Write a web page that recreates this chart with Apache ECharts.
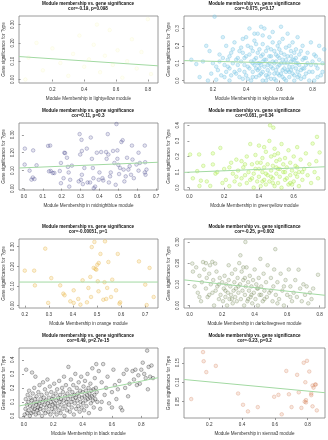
<!DOCTYPE html>
<html><head><meta charset="utf-8">
<script src="https://cdn.jsdelivr.net/npm/echarts@6/dist/echarts.min.js"></script>
<style>html,body{margin:0;padding:0;background:#fff}#c{width:328px;height:440px}</style>
</head><body><div id="c"></div>
<script>
// ---------- DATA ----------
const modules = ["lightyellow","skyblue","midnightblue","greenyellow","orange","darkolivegreen","black","sienna3"];
const corLabels = ["cor=-0.19, p=0.098","cor=-0.075, p=0.17","cor=0.11, p=0.3","cor=0.081, p=0.34","cor=-0.00051, p=1","cor=-0.25, p=0.002","cor=0.49, p=2.7e-15","cor=-0.23, p=0.2"];
const mainTitle = "Module membership vs. gene significance";
const yTitle = "Gene significance for Type";
const xTickLabels = [
  ["0.2","0.4","0.6","0.8"],
  ["0.2","0.4","0.6","0.8"],
  ["0.0","0.1","0.2","0.3","0.4","0.5","0.6","0.7"],
  ["0.0","0.2","0.4","0.6"],
  ["0.2","0.3","0.4","0.5","0.6","0.7"],
  ["0.0","0.2","0.4","0.6","0.8"],
  ["0.0","0.2","0.4","0.6","0.8"],
  ["0.2","0.4","0.6","0.8"]
];
const yTickLabels = [
  ["0.00","0.10","0.20","0.30"],
  ["0.0","0.1","0.2","0.3"],
  ["0.00","0.10","0.20","0.30"],
  ["0.0","0.1","0.2","0.3","0.4"],
  ["0.00","0.10","0.20","0.30"],
  ["0.00","0.10","0.20","0.30"],
  ["0.0","0.1","0.2","0.3","0.4"],
  ["0.05","0.10","0.15"]
];
const xRange = [[-0.01,0.864],[0.026,0.875],[-0.026,0.71],[-0.031,0.78],[0.176,0.753],[-0.035,0.833],[-0.034,0.914],[0.046,0.906]];
const yRange = [[-0.019,0.347],[-0.014,0.372],[-0.008,0.366],[-0.015,0.415],[-0.012,0.339],[-0.012,0.314],[-0.015,0.485],[0.008,0.188]];
const fitIntercept = [0.125,0.1156,0.116,0.0994,0.12,0.118,0.078,0.1088];
const fitSlope = [-0.058,-0.0236,0.0435,0.0444,0,-0.084,0.213,-0.0395];

const lightyellowPts = [[0.05,0.12],[0.1,0.2],[0.14,0.05],[0.2,0.17],[0.25,0.09],[0.3,0.02],[0.33,0.14],[0.37,0.24],[0.4,0.07],[0.43,0.11],[0.46,0.19],[0.5,0.04],[0.53,0.13],[0.56,0.27],[0.58,0.08],[0.61,0.16],[0.64,0.01],[0.67,0.1],[0.7,0.22],[0.73,0.06],[0.76,0.15],[0.8,0.33],[0.82,0.03],[0.03,0.0],[0.48,0.3]];

const skybluePts = [[0.07,0.12],[0.1,0.095],[0.12,0.02],[0.16,0.2],[0.17,0.0],[0.19,0.04],[0.2,0.1],[0.21,0.368],[0.22,0.005],[0.23,0.06],[0.24,0.15],[0.18,0.17],[0.14,0.11],[0.25,0.03],[0.26,0.25],[0.27,0.09],[0.28,0.2],[0.29,0.12],[0.3,0.0],[0.3,0.07],[0.31,0.16],[0.32,0.1],[0.33,0.22],[0.34,0.04],[0.35,0.13],[0.36,0.06],[0.37,0.19],[0.38,0.01],[0.38,0.24],[0.39,0.09],[0.4,0.14],[0.4,0.03],[0.41,0.2],[0.42,0.3],[0.42,0.07],[0.43,0.11],[0.43,0.0],[0.44,0.17],[0.44,0.05],[0.45,0.23],[0.45,0.09],[0.46,0.02],[0.46,0.13],[0.47,0.27],[0.47,0.06],[0.48,0.18],[0.48,0.1],[0.49,0.31],[0.49,0.04],[0.5,0.15],[0.5,0.0],[0.5,0.21],[0.51,0.08],[0.51,0.3],[0.52,0.12],[0.52,0.03],[0.53,0.19],[0.53,0.06],[0.54,0.25],[0.54,0.1],[0.55,0.01],[0.55,0.14],[0.56,0.07],[0.56,0.22],[0.57,0.04],[0.57,0.17],[0.58,0.11],[0.58,0.0],[0.59,0.2],[0.59,0.08],[0.6,0.13],[0.6,0.03],[0.61,0.31],[0.61,0.16],[0.62,0.06],[0.62,0.24],[0.63,0.1],[0.63,0.01],[0.64,0.19],[0.64,0.05],[0.65,0.14],[0.65,0.27],[0.66,0.08],[0.66,0.02],[0.67,0.17],[0.67,0.11],[0.68,0.22],[0.68,0.04],[0.69,0.12],[0.69,0.0],[0.7,0.18],[0.7,0.07],[0.71,0.25],[0.71,0.1],[0.72,0.03],[0.72,0.15],[0.73,0.06],[0.74,0.2],[0.74,0.12],[0.75,0.02],[0.76,0.09],[0.77,0.16],[0.78,0.05],[0.79,0.22],[0.8,0.11],[0.81,0.0],[0.82,0.14],[0.83,0.07],[0.84,0.2],[0.85,0.03],[0.86,0.1],
[0.36,0.02],[0.37,0.11],[0.39,0.05],[0.41,0.08],[0.42,0.15],[0.44,0.02],[0.45,0.12],[0.46,0.07],[0.47,0.16],[0.48,0.03],[0.49,0.09],[0.5,0.05],[0.51,0.12],[0.52,0.0],[0.53,0.09],[0.54,0.04],[0.55,0.18],[0.56,0.11],[0.57,0.01],[0.58,0.06],[0.59,0.14],[0.6,0.09],[0.61,0.04],[0.62,0.12],[0.63,0.07],[0.64,0.0],[0.65,0.1],[0.66,0.05],[0.67,0.14],[0.68,0.08],[0.69,0.03],[0.7,0.13],[0.71,0.05],[0.72,0.09],[0.73,0.01],[0.74,0.07],[0.75,0.13],[0.76,0.04],[0.77,0.1],[0.78,0.0],[0.35,0.09],[0.33,0.05],[0.31,0.03],[0.29,0.08],[0.27,0.02],[0.26,0.13],[0.32,0.18],[0.34,0.12],[0.38,0.16],[0.4,0.25],[0.43,0.19],[0.46,0.21],[0.49,0.14],[0.52,0.17],[0.55,0.08],[0.58,0.15],[0.61,0.1],[0.64,0.12],[0.67,0.06],[0.7,0.1],[0.73,0.17],[0.76,0.13],[0.8,0.05],[0.82,0.09],[0.84,0.12],[0.86,0.05],[0.87,0.18],[0.5,0.26],[0.56,0.28],[0.45,0.27],[0.6,0.22],[0.66,0.2],[0.3,0.14],[0.22,0.08],[0.24,0.11],[0.28,0.05],[0.53,0.02],[0.57,0.1],[0.62,0.02],[0.47,0.1],[0.41,0.01],[0.39,0.13],[0.36,0.17],[0.65,0.06],[0.69,0.16],[0.75,0.07],[0.79,0.09],[0.81,0.15],[0.83,0.02],[0.71,0.02],[0.59,0.04],[0.54,0.14],[0.48,0.07],[0.44,0.1],[0.5,0.11],[0.6,0.18],[0.63,0.15],[0.68,0.12]];

const midnightbluePts = [[0.005,0.223],[0.004,0.134],[0.03,0.1],[0.04,0.05],[0.047,0.062],[0.049,0.213],[0.056,0.053],[0.067,0.13],[0.128,0.238],[0.139,0.24],[0.133,0.096],[0.142,0.098],[0.153,0.087],[0.161,0.087],[0.19,0.098],[0.196,0.143],[0.196,0.03],[0.21,0.058],[0.214,0.2],[0.218,0.198],[0.228,0.172],[0.233,0.121],[0.237,0.09],[0.24,0.011],[0.245,0.049],[0.254,0.128],[0.295,0.304],[0.298,0.19],[0.302,0.049],[0.305,0.272],[0.307,0.21],[0.307,0.077],[0.29,0.04],[0.312,0.025],[0.32,0.115],[0.333,0.223],[0.337,0.034],[0.35,0.034],[0.354,0.285],[0.36,0.166],[0.365,0.115],[0.368,0.058],[0.37,0.002],[0.377,0.011],[0.386,0.2],[0.396,0.049],[0.4,0.09],[0.409,0.204],[0.416,0.058],[0.42,0.045],[0.435,0.204],[0.438,0.166],[0.444,0.304],[0.447,0.19],[0.45,0.034],[0.456,0.068],[0.46,0.09],[0.472,0.21],[0.479,0.143],[0.486,0.021],[0.49,0.36],[0.495,0.213],[0.495,0.166],[0.5,0.132],[0.504,0.081],[0.509,0.115],[0.516,0.26],[0.523,0.27],[0.528,0.106],[0.532,0.04],[0.539,0.068],[0.546,0.172],[0.553,0.106],[0.56,0.125],[0.567,0.077],[0.572,0.24],[0.575,0.162],[0.582,0.058],[0.596,0.134],[0.607,0.1],[0.607,0.2],[0.614,0.143],[0.64,0.24],[0.642,0.147],[0.64,0.09],[0.644,0.077],[0.649,0.106]];

const greenyellowPts = [[0.004,0.213],[0.02,0.06],[0.045,0.106],[0.056,0.213],[0.058,0.011],[0.066,0.045],[0.08,0.14],[0.12,0.011],[0.135,0.22],[0.135,0.149],[0.15,0.09],[0.178,0.255],[0.19,0.03],[0.2,0.12],[0.21,0.05],[0.23,0.01],[0.24,0.16],[0.25,0.09],[0.26,0.04],[0.27,0.18],[0.28,0.11],[0.29,0.02],[0.3,0.17],[0.3,0.06],[0.31,0.13],[0.32,0.08],[0.33,0.2],[0.33,0.03],[0.34,0.1],[0.35,0.28],[0.35,0.05],[0.36,0.15],[0.37,0.0],[0.37,0.09],[0.38,0.21],[0.38,0.12],[0.39,0.04],[0.4,0.27],[0.4,0.07],[0.41,0.16],[0.41,0.01],[0.42,0.1],[0.42,0.19],[0.43,0.05],[0.43,0.13],[0.44,0.23],[0.44,0.02],[0.45,0.08],[0.45,0.15],[0.46,0.3],[0.46,0.04],[0.464,0.4],[0.47,0.11],[0.47,0.2],[0.48,0.06],[0.483,0.385],[0.48,0.14],[0.49,0.25],[0.49,0.01],[0.5,0.09],[0.5,0.17],[0.51,0.03],[0.51,0.22],[0.52,0.12],[0.52,0.07],[0.53,0.28],[0.53,0.0],[0.54,0.15],[0.54,0.1],[0.55,0.05],[0.55,0.19],[0.56,0.13],[0.57,0.02],[0.57,0.24],[0.58,0.08],[0.58,0.16],[0.59,0.11],[0.6,0.04],[0.6,0.2],[0.61,0.14],[0.62,0.07],[0.62,0.26],[0.63,0.01],[0.63,0.1],[0.64,0.18],[0.65,0.05],[0.66,0.12],[0.67,0.22],[0.68,0.08],[0.69,0.15],[0.7,0.03],[0.709,0.283],[0.72,0.1],[0.734,0.326],[0.74,0.06],[0.749,0.226],[0.73,0.17],[0.32,0.15],[0.36,0.06],[0.4,0.12],[0.44,0.09],[0.48,0.03],[0.5,0.13],[0.52,0.18],[0.56,0.06],[0.59,0.02],[0.61,0.09],[0.65,0.1],[0.27,0.07],[0.23,0.13],[0.1,0.04],[0.16,0.1],[0.39,0.16],[0.43,0.26],[0.47,0.07],[0.51,0.12],[0.55,0.1],[0.49,0.21],[0.42,0.04],[0.58,0.03],[0.62,0.13]];

const orangePts = [[0.2,0.178],[0.239,0.178],[0.242,0.103],[0.285,0.29],[0.297,0.014],[0.31,0.14],[0.347,0.103],[0.36,0.061],[0.365,0.053],[0.389,0.022],[0.403,0.078],[0.403,0.014],[0.422,0.034],[0.431,0.005],[0.44,0.129],[0.458,0.017],[0.464,0.09],[0.472,0.146],[0.475,0.044],[0.478,0.298],[0.486,0.192],[0.489,0.324],[0.493,0.187],[0.497,0.183],[0.501,0.208],[0.503,0.124],[0.507,0.217],[0.506,0.073],[0.514,0.263],[0.526,0.03],[0.531,0.119],[0.533,0.327],[0.538,0.034],[0.542,0.09],[0.547,0.222],[0.558,0.044],[0.563,0.132],[0.579,0.078],[0.586,0.263],[0.593,0.01],[0.596,0.017],[0.674,0.225],[0.7,0.107],[0.706,0.003],[0.718,0.192],[0.735,0.044]];

const darkolivegreenPts = [[0.016,0.198],[0.02,0.16],[0.03,0.09],[0.04,0.18],[0.05,0.06],[0.06,0.14],[0.07,0.02],[0.075,0.11],[0.082,0.205],[0.09,0.17],[0.1,0.08],[0.105,0.13],[0.11,0.04],[0.12,0.15],[0.125,0.19],[0.13,0.1],[0.139,0.206],[0.145,0.12],[0.15,0.0],[0.157,0.198],[0.16,0.07],[0.165,0.16],[0.17,0.09],[0.18,0.03],[0.185,0.13],[0.19,0.05],[0.2,0.11],[0.205,0.02],[0.21,0.08],[0.215,0.14],[0.22,0.04],[0.225,0.1],[0.23,0.0],[0.235,0.06],[0.24,0.12],[0.245,0.03],[0.25,0.09],[0.255,0.05],[0.26,0.15],[0.265,0.01],[0.27,0.07],[0.275,0.11],[0.28,0.04],[0.285,0.08],[0.29,0.02],[0.295,0.13],[0.3,0.06],[0.305,0.2],[0.31,0.1],[0.312,0.237],[0.315,0.03],[0.32,0.16],[0.325,0.07],[0.33,0.12],[0.335,0.0],[0.34,0.05],[0.343,0.3],[0.345,0.09],[0.35,0.18],[0.355,0.02],[0.36,0.11],[0.365,0.07],[0.37,0.14],[0.375,0.04],[0.38,0.09],[0.385,0.01],[0.39,0.12],[0.395,0.06],[0.4,0.17],[0.405,0.03],[0.41,0.1],[0.415,0.08],[0.42,0.0],[0.425,0.13],[0.43,0.05],[0.435,0.22],[0.44,0.09],[0.45,0.02],[0.455,0.15],[0.46,0.07],[0.47,0.11],[0.475,0.04],[0.48,0.19],[0.49,0.06],[0.5,0.13],[0.51,0.02],[0.515,0.09],[0.52,0.17],[0.527,0.266],[0.53,0.05],[0.54,0.11],[0.55,0.03],[0.56,0.15],[0.57,0.07],[0.58,0.0],[0.59,0.12],[0.6,0.05],[0.61,0.17],[0.62,0.09],[0.63,0.02],[0.64,0.06],[0.65,0.12],[0.66,0.04],[0.67,0.169],[0.68,0.08],[0.69,0.02],[0.7,0.1],[0.71,0.05],[0.72,0.09],[0.73,0.01],[0.74,0.06],[0.75,0.03],[0.76,0.08],[0.79,0.145],[0.14,0.06],[0.18,0.1],[0.22,0.07],[0.26,0.03],[0.3,0.09],[0.34,0.13],[0.38,0.05],[0.42,0.08],[0.46,0.03],[0.5,0.07],[0.54,0.01],[0.58,0.09],[0.62,0.04],[0.28,0.17],[0.24,0.19],[0.36,0.03],[0.44,0.05],[0.33,0.18],[0.1,0.2],[0.12,0.05],[0.06,0.04]];

const blackPts = [[0.005,0.01],[0.01,0.05],[0.012,0.12],[0.015,0.33],[0.02,0.08],[0.022,0.02],[0.025,0.15],[0.03,0.1],[0.032,0.04],[0.035,0.18],[0.04,0.0],[0.042,0.07],[0.045,0.13],[0.05,0.02],[0.052,0.11],[0.055,0.31],[0.058,0.06],[0.06,0.16],[0.063,0.03],[0.066,0.09],[0.07,0.2],[0.072,0.05],[0.075,0.12],[0.078,0.28],[0.08,0.01],[0.083,0.08],[0.086,0.14],[0.09,0.04],[0.092,0.1],[0.095,0.06],[0.098,0.17],
[0.1,0.02],[0.103,0.09],[0.106,0.22],[0.11,0.05],[0.113,0.12],[0.116,0.07],[0.12,0.15],[0.123,0.0],[0.126,0.1],[0.13,0.24],[0.133,0.04],[0.136,0.13],[0.14,0.08],[0.143,0.19],[0.146,0.02],[0.15,0.11],[0.153,0.06],[0.156,0.16],[0.16,0.26],[0.163,0.09],[0.166,0.03],[0.17,0.13],[0.173,0.07],[0.176,0.21],[0.18,0.01],[0.183,0.1],[0.186,0.17],[0.19,0.05],[0.193,0.12],[0.196,0.08],
[0.2,0.14],[0.203,0.03],[0.206,0.23],[0.21,0.09],[0.213,0.06],[0.216,0.16],[0.22,0.11],[0.223,0.01],[0.226,0.19],[0.23,0.07],[0.233,0.13],[0.236,0.04],[0.24,0.25],[0.243,0.1],[0.246,0.15],[0.25,0.02],[0.253,0.12],[0.256,0.08],[0.26,0.2],[0.263,0.05],[0.266,0.17],[0.27,0.11],[0.273,0.28],[0.276,0.0],[0.28,0.14],[0.283,0.07],[0.286,0.22],[0.29,0.1],[0.293,0.04],[0.296,0.16],
[0.3,0.12],[0.303,0.35],[0.306,0.08],[0.31,0.19],[0.313,0.03],[0.316,0.14],[0.32,0.26],[0.323,0.1],[0.326,0.06],[0.33,0.17],[0.333,0.12],[0.336,0.22],[0.34,0.01],[0.343,0.15],[0.346,0.09],[0.35,0.3],[0.353,0.13],[0.356,0.05],[0.36,0.2],[0.363,0.11],[0.366,0.16],[0.37,0.07],[0.373,0.24],[0.376,0.14],[0.38,0.03],[0.383,0.18],[0.386,0.1],[0.39,0.28],[0.393,0.06],[0.396,0.13],
[0.4,0.17],[0.403,0.09],[0.406,0.21],[0.41,0.04],[0.413,0.14],[0.416,0.25],[0.42,0.11],[0.423,0.18],[0.426,0.07],[0.43,0.15],[0.433,0.3],[0.436,0.12],[0.44,0.2],[0.443,0.02],[0.446,0.16],[0.45,0.13],[0.453,0.23],[0.456,0.09],[0.46,0.18],[0.463,0.14],[0.466,0.34],[0.47,0.11],[0.473,0.19],[0.476,0.06],[0.48,0.15],[0.483,0.27],[0.486,0.12],[0.49,0.2],[0.493,0.37],[0.496,0.17],
[0.5,0.1],[0.51,0.32],[0.52,0.05],[0.53,0.24],[0.54,0.37],[0.55,0.15],[0.56,0.2],[0.57,0.28],[0.58,0.09],[0.6,0.17],[0.61,0.33],[0.62,0.22],[0.63,0.12],[0.65,0.25],[0.66,0.06],[0.67,0.04],[0.68,0.3],[0.69,0.2],[0.7,0.33],[0.72,0.23],[0.74,0.32],[0.75,0.26],[0.76,0.33],[0.77,0.22],[0.78,0.29],[0.8,0.33],[0.81,0.38],[0.82,0.3],[0.83,0.27],[0.84,0.466],[0.845,0.19],[0.85,0.35],[0.86,0.28],[0.87,0.36],[0.88,0.27],[0.6,0.06],[0.53,0.1],[0.64,0.19],[0.71,0.14],[0.79,0.23]];

const sienna3Pts = [[0.09,0.0567],[0.162,0.1775],[0.166,0.154],[0.182,0.126],[0.24,0.142],[0.376,0.071],[0.406,0.042],[0.436,0.025],[0.496,0.036],[0.596,0.0625],[0.622,0.0675],[0.67,0.129],[0.686,0.069],[0.702,0.036],[0.642,0.0175],[0.736,0.119],[0.746,0.074],[0.762,0.034],[0.776,0.15],[0.786,0.1],[0.79,0.048],[0.796,0.155],[0.81,0.1275],[0.822,0.071],[0.822,0.0667],[0.83,0.0917],[0.836,0.086],[0.846,0.094],[0.85,0.094],[0.856,0.0275],[0.83,0.038],[0.79,0.054],[0.782,0.05]];

const pointSets = [lightyellowPts, skybluePts, midnightbluePts, greenyellowPts, orangePts, darkolivegreenPts, blackPts, sienna3Pts];

// ---------- STYLE / LAYOUT ----------
const pointFill = ['rgba(255,255,224,0.5)','rgba(135,206,235,0.4)','rgba(25,25,112,0.14)','rgba(173,255,47,0.3)','rgba(240,190,60,0.28)','rgba(85,107,47,0.16)','rgba(0,0,0,0.17)','rgba(205,104,57,0.2)'];
const pointStroke = ['rgba(245,245,210,0.6)','rgba(120,195,225,0.7)','rgba(25,25,112,0.42)','rgba(160,215,70,0.6)','rgba(225,175,70,0.6)','rgba(85,107,47,0.45)','rgba(0,0,0,0.5)','rgba(205,104,57,0.42)'];
const colLeft = [18, 184], colWidth = [140, 141];
const rowTop = [16, 123, 239, 348], rowHeight = [67, 67, 69, 70];
const FONT = 'Liberation Sans';
const FS = 4.6;
const boxColor = '#808080';

const chart = echarts.init(document.getElementById('c'), null, {renderer:'canvas'});
const grids = [], xAxes = [], yAxes = [], series = [], titles = [];
modules.forEach((m, i) => {
  const col = i % 2, row = Math.floor(i / 2);
  const left = colLeft[col], top = rowTop[row], w = colWidth[col], h = rowHeight[row];
  grids.push({left:left, top:top, width:w, height:h, show:true, borderColor:boxColor, borderWidth:0.8, backgroundColor:'transparent', containLabel:false});
  titles.push({text: mainTitle + '\n' + corLabels[i], left: left + w/2, top: top - 14.5, textAlign:'center', padding:0,
    textStyle:{fontFamily:FONT, fontSize:FS, fontWeight:'bold', color:'#111', lineHeight:5}});
  const xl = xTickLabels[i], yl = yTickLabels[i];
  xAxes.push({type:'value', gridIndex:i, min:xRange[i][0], max:xRange[i][1],
    axisLine:{show:false}, splitLine:{show:false},
    axisTick:{show:true, length:2, customValues:xl.map(Number), lineStyle:{color:boxColor, width:0.8}},
    axisLabel:{customValues:xl.map(Number), margin:4, fontSize:FS, fontFamily:FONT, color:'#333',
      formatter:(v)=>{const s = xl.find(t=>Math.abs(Number(t)-v)<1e-9); return s===undefined?'':s;}},
    name:'Module Membership in ' + m + ' module', nameLocation:'middle', nameGap:13,
    nameTextStyle:{fontFamily:FONT, fontSize:FS, color:'#333'}});
  yAxes.push({type:'value', gridIndex:i, min:yRange[i][0], max:yRange[i][1],
    axisLine:{show:false}, splitLine:{show:false},
    axisTick:{show:true, length:2, customValues:yl.map(Number), lineStyle:{color:boxColor, width:0.8}},
    axisLabel:{customValues:yl.map(Number), rotate:90, margin:4, fontSize:FS, fontFamily:FONT, color:'#333',
      formatter:(v)=>{const s = yl.find(t=>Math.abs(Number(t)-v)<1e-9); return s===undefined?'':s;}},
    name:yTitle, nameLocation:'middle', nameGap:13,
    nameTextStyle:{fontFamily:FONT, fontSize:FS, color:'#333'}});
  series.push({type:'scatter', xAxisIndex:i, yAxisIndex:i, data:pointSets[i], symbol:'circle', symbolSize:3.6,
    itemStyle:{color:pointFill[i], borderColor:pointStroke[i], borderWidth:0.7}, silent:true, z:2});
  const x0 = xRange[i][0], x1 = xRange[i][1];
  series.push({type:'line', xAxisIndex:i, yAxisIndex:i, symbol:'none', silent:true, z:3,
    data:[[x0, fitIntercept[i] + fitSlope[i]*x0],[x1, fitIntercept[i] + fitSlope[i]*x1]],
    lineStyle:{color:'#a2d9a2', width:1}});
});
chart.setOption({animation:false, title:titles, grid:grids, xAxis:xAxes, yAxis:yAxes, series:series});
</script></body></html>
